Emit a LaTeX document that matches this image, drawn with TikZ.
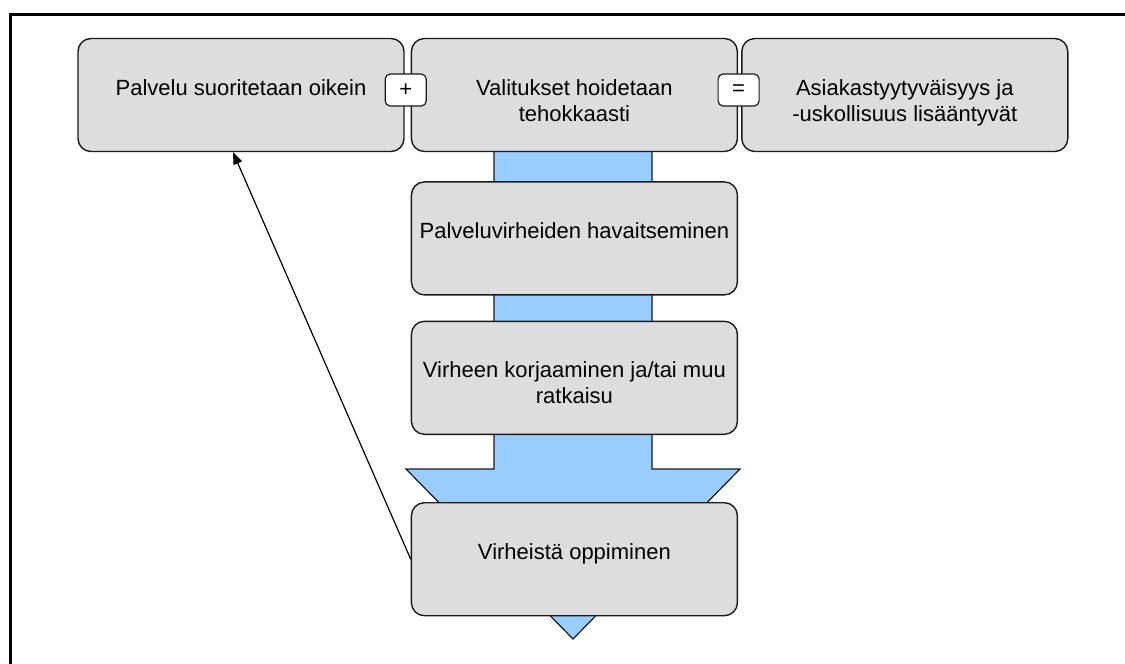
\documentclass[tikz,border=0pt]{standalone}
\usepackage{fontspec}
\setmainfont{Liberation Sans}
\definecolor{BoxGray}{HTML}{DDDDDD}
\definecolor{FlowBlue}{HTML}{99CCFF}
\definecolor{EdgeDark}{HTML}{1A1A1A}
\usetikzlibrary{arrows.meta,calc,positioning}
% text block whose first line sits at the same height in every box
\newcommand{\stagelines}[1]{\raisebox{0pt}[16pt][16pt]{\begin{tabular}[t]{@{}c@{}}#1\end{tabular}}}

\begin{document}
\begin{tikzpicture}[x=1pt,y=-1pt,>={Triangle[length=12pt,width=9pt]},
  stage/.style={draw=EdgeDark,line width=1.4pt,rounded corners=13pt,fill=BoxGray,
    minimum width=326pt,minimum height=113pt,inner sep=0pt,
    font=\fontsize{22}{26}\selectfont},
  sign/.style={draw=EdgeDark,line width=1.2pt,rounded corners=5pt,fill=white,
    minimum width=41pt,minimum height=32pt,inner sep=0pt,font=\fontsize{22}{26}\selectfont}]
  \useasboundingbox (0,0) rectangle (1125,664);
  % frame, only top and left edge are visible
  \draw[line width=3pt] (1125,14) -- (10,14) -- (10,664);
  % big blue flow arrow behind the column
  \draw[fill=FlowBlue,draw=EdgeDark,line width=1.2pt]
    (494,95) -- (494,469) -- (406,469) -- (573,639) -- (740,469) -- (652,469) -- (652,95) -- cycle;
  \node[stage] (serve) at (241,95) {\stagelines{Palvelu suoritetaan oikein}};
  \node[stage,right=6pt of serve] (complaint) {\stagelines{Valitukset hoidetaan\\tehokkaasti}};
  \node[stage,right=3pt of complaint] (loyal) {\stagelines{Asiakastyytyväisyys ja\\-uskollisuus lisääntyvät}};
  \node[stage,below=29pt of complaint] (detect) {\stagelines{Palveluvirheiden havaitseminen}};
  \node[stage,below=25pt of detect] (fix) {\stagelines{Virheen korjaaminen ja/tai muu\\ratkaisu}};
  \node[stage,below=67pt of fix] (learn) {\stagelines{Virheistä oppiminen}};
  \node[sign] (plus) at ($(serve.east)!0.5!(complaint.west)+(-2,-5)$) {+};
  \node[sign] (equals) at ($(complaint.east)!0.5!(loyal.west)+(-1,-5)$) {=};
  % feedback to the first box
  \draw[->,line width=1.2pt] (learn.west) -- ($(serve.south)+(-8,0)$);
\end{tikzpicture}
\end{document}
